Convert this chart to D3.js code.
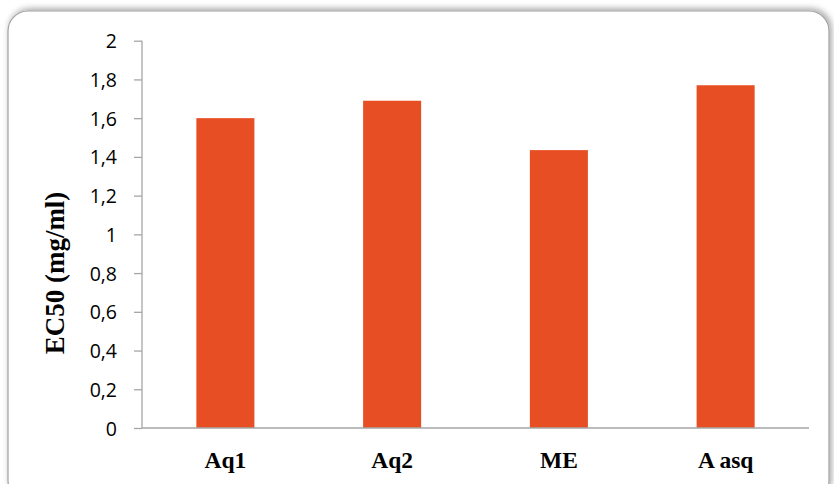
<!DOCTYPE html>
<html>
<head>
<meta charset="utf-8">
<script src="https://cdn.jsdelivr.net/npm/d3@7"></script>
<style>
  html, body { margin: 0; padding: 0; background: #fff; }
  svg { display: block; }
</style>
</head>
<body>
<svg id="chart" width="834" height="484"></svg>
<script>
// EC50 values per extract
const categories = ["Aq1", "Aq2", "ME", "A asq"];
const values = [1.6, 1.69, 1.435, 1.77];
const yTicks = [0, 0.2, 0.4, 0.6, 0.8, 1, 1.2, 1.4, 1.6, 1.8, 2];
const yTitle = "EC50 (mg/ml)";

const svg = d3.select("#chart");

// chart frame with soft shadow
const defs = svg.append("defs");
const f = defs.append("filter").attr("id", "shadow")
  .attr("x", "-5%").attr("y", "-5%").attr("width", "110%").attr("height", "110%");
f.append("feDropShadow").attr("dx", 2).attr("dy", -2).attr("stdDeviation", 3)
  .attr("flood-color", "#000").attr("flood-opacity", 0.35);

svg.append("rect")
  .attr("x", 8).attr("y", 11).attr("width", 821).attr("height", 490)
  .attr("rx", 20).attr("ry", 20)
  .attr("fill", "#fff").attr("stroke", "#a0a0a0").attr("stroke-width", 1.2)
  .attr("filter", "url(#shadow)");

const plot = { left: 142, right: 809, top: 40.7, bottom: 428 };

const x = d3.scaleBand()
  .domain(categories)
  .range([plot.left, plot.right])
  .paddingInner(0.652)
  .paddingOuter(0.326);

const y = d3.scaleLinear().domain([0, 2]).range([plot.bottom, plot.top]);

const fmt = d => String(d).replace(".", ",");

// bars
svg.append("g").selectAll("rect")
  .data(categories)
  .join("rect")
  .attr("x", d => x(d))
  .attr("y", (d, i) => y(values[i]))
  .attr("width", x.bandwidth())
  .attr("height", (d, i) => y(0) - y(values[i]))
  .attr("fill", "#E84E24");

// y axis
const yAxis = svg.append("g")
  .attr("transform", `translate(${plot.left},0)`)
  .call(d3.axisLeft(y).tickValues(yTicks).tickFormat(fmt).tickSize(8).tickPadding(17));
yAxis.select(".domain").attr("stroke", "#a6a6a6").attr("stroke-width", 1.3)
  .attr("d", `M0,${plot.top}V${plot.bottom}`);
yAxis.selectAll(".tick line").attr("stroke", "#a6a6a6").attr("stroke-width", 1.3);
yAxis.selectAll(".tick text")
  .attr("fill", "#000")
  .style("font-family", "'Open Sans', 'Noto Sans', sans-serif")
  .style("font-size", "19.5px")
  .attr("dy", "0.36em");

// x axis
const xAxis = svg.append("g")
  .attr("transform", `translate(0,${plot.bottom})`)
  .call(d3.axisBottom(x).tickSize(0).tickPadding(23));
xAxis.select(".domain").attr("stroke", "#a6a6a6").attr("stroke-width", 1.3)
  .attr("d", `M${plot.left},0H${plot.right}`);
xAxis.selectAll(".tick text")
  .attr("fill", "#000")
  .style("font-family", "'Liberation Serif', 'Times New Roman', serif")
  .style("font-weight", "bold")
  .style("font-size", "23.5px");

// y axis title
svg.append("text")
  .attr("transform", `translate(64,273) rotate(-90)`)
  .attr("text-anchor", "middle")
  .style("font-family", "'Liberation Serif', 'Times New Roman', serif")
  .style("font-weight", "bold")
  .style("font-size", "27px")
  .attr("fill", "#000")
  .text(yTitle);
</script>
</body>
</html>
